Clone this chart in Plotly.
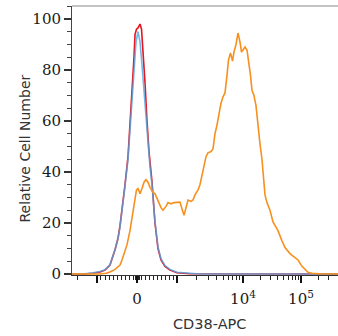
import numpy as np
import plotly.graph_objects as go

# ---- data (x in logicle display units, y = relative cell number) ----
red_x = [-1.121, -0.897, -0.759, -0.638, -0.552, -0.466, -0.379, -0.328, -0.293, -0.241,
         -0.207, -0.155, -0.121, -0.086, -0.052, -0.034, -0.009, 0.017, 0.052, 0.078,
         0.103, 0.138, 0.172, 0.207, 0.259, 0.310, 0.362, 0.414, 0.483, 0.569, 0.690,
         0.914, 3.466]
red_y = [0, 0, 0.3, 0.8, 1.5, 3.5, 9.5, 14, 19, 28,
         35, 46, 58, 70, 85, 94, 96, 96.5, 98, 96,
         88, 75, 60, 48, 36, 20, 10, 5.5, 3, 1.5, 0.5,
         0.1, 0]

blue_x = [-1.121, -0.897, -0.759, -0.638, -0.552, -0.466, -0.379, -0.328, -0.293, -0.241,
          -0.207, -0.155, -0.121, -0.086, -0.052, -0.017, 0.017, 0.052, 0.086, 0.121,
          0.155, 0.190, 0.224, 0.259, 0.310, 0.362, 0.414, 0.483, 0.569, 0.690, 0.914,
          1.086, 3.466]
blue_y = [0, 0.1, 0.5, 1.0, 1.7, 3.6, 9.6, 13.8, 18.5, 27.5,
          34.5, 45, 56, 68, 82, 91, 95, 91, 82, 72,
          61, 50, 42, 35, 20.5, 10.5, 6, 3.3, 1.8, 0.7, 0.2,
          0, 0]

orange_x = [-1.121, -0.638, -0.534, -0.466, -0.379, -0.293, -0.259, -0.207, -0.172, -0.121,
            -0.069, -0.034, -0.009, 0.017, 0.052, 0.086, 0.121, 0.155, 0.190, 0.224,
            0.276, 0.310, 0.362, 0.414, 0.448, 0.500, 0.534, 0.586, 0.638, 0.690,
            0.741, 0.776, 0.810, 0.845, 0.879, 0.931, 0.966, 1.000, 1.052, 1.086,
            1.138, 1.190, 1.224, 1.276, 1.310, 1.345, 1.379, 1.414, 1.448, 1.483,
            1.517, 1.552, 1.578, 1.612, 1.647, 1.672, 1.707, 1.741, 1.776, 1.802,
            1.828, 1.862, 1.897, 1.931, 1.957, 1.983, 2.017, 2.052, 2.086, 2.121,
            2.155, 2.172, 2.207, 2.241, 2.293, 2.345, 2.431, 2.500, 2.552, 2.638,
            2.724, 2.776, 2.845, 2.897, 2.948, 3.017, 3.155, 3.466]
orange_y = [0, 0, 0.3, 0.8, 1.8, 3.5, 5.5, 9.4, 11.5, 17,
            25, 30, 33, 33.5, 31.5, 33.5, 36, 37, 36, 34,
            32, 31.5, 28.5, 26, 25, 26.5, 28, 27.5, 28, 28,
            28.2, 25.5, 23, 26, 29, 28.5, 29, 31, 33, 35,
            41, 46, 47.5, 48, 49, 55, 58.4, 63, 67, 69.5,
            71, 78, 84, 86.7, 83.5, 87, 90, 94.5, 91, 87,
            88, 89, 87.8, 83, 78, 72, 70, 66, 57.6, 51,
            45, 41, 31, 28, 25, 20.4, 17, 13, 10.4, 8,
            6.5, 5.5, 3, 1.7, 0.7, 0.3, 0.1, 0]

y_ticks = [0, 20, 40, 60, 80, 100]
x_major_values = [-1000, 0, 1000, 1e4, 1e5]
x_major_labels = ["", "0", "", "10<sup>4</sup>", "10<sup>5</sup>"]


def disp(v):
    """Logicle-like display transform used for the x axis."""
    s = np.sign(v)
    a = abs(v)
    if a <= 1000:
        return 0.69 * v / 1000.0
    if a <= 1e4:
        return float(s * (0.69 + 1.138 * np.log10(a / 1000.0)))
    return float(s * (1.828 + np.log10(a / 1e4)))


major_pos = [disp(v) for v in x_major_values]
minor_vals = [k * 100 for k in range(-9, 10) if k != 0]
minor_vals += [k * 25 for k in (-2, -1, 1, 2)]
minor_vals += [-2000] + [k * 1000 for k in range(2, 10)] + [k * 1e4 for k in range(2, 10)] + [2e5, 3e5]
minor_pos = [disp(v) for v in minor_vals]

fig = go.Figure()
fig.add_trace(go.Scatter(x=red_x, y=red_y, mode="lines", line=dict(color="#e8151f", width=1.6),
                         name="Isotype", showlegend=False))
fig.add_trace(go.Scatter(x=blue_x, y=blue_y, mode="lines",
                         line=dict(color="rgba(80,165,225,0.8)", width=1.6),
                         name="Unstained", showlegend=False))
fig.add_trace(go.Scatter(x=orange_x, y=orange_y, mode="lines", line=dict(color="#f7901e", width=1.6),
                         name="CD38-APC", showlegend=False))

tickfont = dict(family="DejaVu Serif", size=15, color="#1a1a1a")
fig.update_layout(
    width=338, height=336,
    margin=dict(l=72, r=0, t=6, b=61, autoexpand=False),
    paper_bgcolor="white", plot_bgcolor="white",
    xaxis=dict(range=[-1.121, 3.466], showgrid=False, zeroline=False, automargin=False,
               showline=True, linecolor="#333333", linewidth=1,
               ticks="outside", tickvals=major_pos, ticktext=x_major_labels,
               ticklen=7, tickwidth=2, tickcolor="#111111", tickfont=tickfont,
               ticklabelstandoff=3,
               minor=dict(tickvals=minor_pos, ticks="outside", ticklen=4,
                          tickwidth=1, tickcolor="#222222")),
    yaxis=dict(range=[-0.4, 105.1], showgrid=False, zeroline=False, automargin=False,
               showline=True, linecolor="#444444", linewidth=1,
               ticks="outside", tickvals=y_ticks, ticklen=7, tickwidth=1.5,
               tickcolor="#333333", tickfont=tickfont,
               minor=dict(dtick=5, ticks="outside", ticklen=4, tickwidth=1,
                          tickcolor="#444444")),
    shapes=[dict(type="line", xref="paper", yref="paper", x0=0, x1=1, y0=1, y1=1,
                 line=dict(color="#888888", width=1))],
    annotations=[
        dict(text="Relative Cell Number", xref="paper", yref="paper",
             x=(24 - 72) / 266, y=(275 - 148.5) / 269, textangle=-90,
             showarrow=False, xanchor="center", yanchor="middle",
             font=dict(family="DejaVu Sans", size=14, color="#333333")),
        dict(text="CD38-APC", xref="paper", yref="paper",
             x=(209.5 - 72) / 266, y=(275 - 324) / 269,
             showarrow=False, xanchor="center", yanchor="middle",
             font=dict(family="DejaVu Sans", size=14.5, color="#333333")),
    ],
)

fig.write_html("out.html", config={"displayModeBar": False},
               post_script="document.body.style.margin='0';document.body.style.overflow='hidden';")
